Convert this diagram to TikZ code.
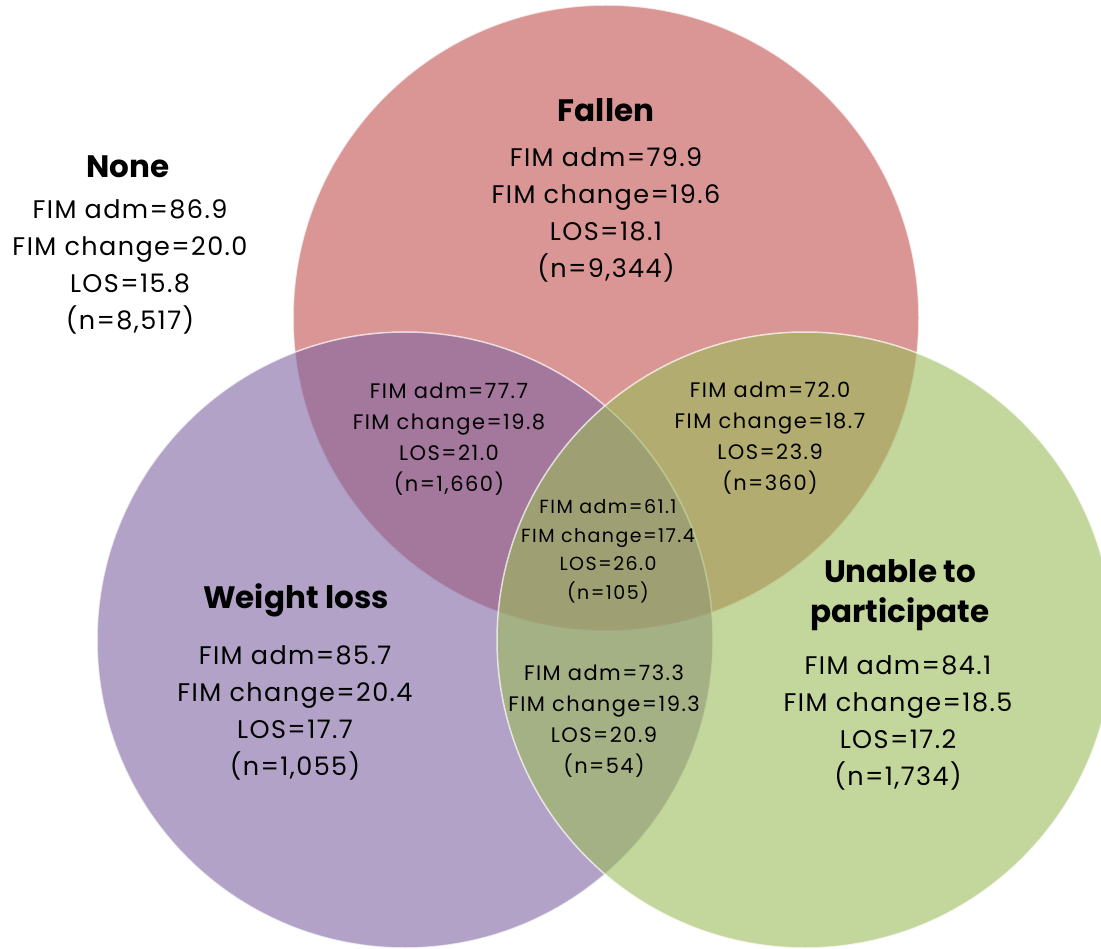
\documentclass[tikz,border=0pt]{standalone}
\usepackage{fontspec}
\setmainfont{Poppins}
\usetikzlibrary{positioning}
\definecolor{fallred}{RGB}{192,80,77}
\definecolor{losspurple}{RGB}{128,100,162}
\definecolor{unablegreen}{RGB}{155,187,89}
\tikzset{
  every picture/.style={line join=round, line cap=round},
  set/.style={fill opacity=0.6, draw=white, draw opacity=0.7, line width=1.5pt},
  head/.style={align=center, font=\fontsize{31}{40}\selectfont\bfseries},
  body/.style={align=center, inner sep=0pt, font=\fontsize{25.5}{37}\selectfont\addfontfeature{LetterSpace=5.5}},
  pair/.style={align=center, inner sep=0pt, font=\fontsize{21}{31}\selectfont\addfontfeature{LetterSpace=7}},
  core/.style={align=center, inner sep=0pt, font=\fontsize{19}{28.5}\selectfont\addfontfeature{LetterSpace=7.5}},
}

\begin{document}
\begin{tikzpicture}[x=1pt,y=-1pt]
\useasboundingbox (0,0) rectangle (1101,949);
\clip (0,0) rectangle (1101,949);
% the three sets
\fill[white] (0,0) rectangle (1101,949);
\draw[set,fill=fallred](606,318) circle[radius=313];
\draw[set,fill=losspurple](405,640) circle[radius=308];
\draw[set,fill=unablegreen](805,640) circle[radius=308];
% titles
\node[head] (none) at (128,167) {None};
\node[head] (fallen) at (606,110) {Fallen};
\node[head] (weight) at (296,600) {Weight loss};
\node[head] (unable) at (900,595) {Unable to\\participate};
% single sets
\node[body] (nonedata) at (130,267) {FIM adm=86.9\\FIM change=20.0\\LOS=15.8\\(n=8,517)};
\node[body] (fallendata) at (606,215) {FIM adm=79.9\\FIM change=19.6\\LOS=18.1\\(n=9,344)};
\node[body] (weightdata) at (295,713) {FIM adm=85.7\\FIM change=20.4\\LOS=17.7\\(n=1,055)};
\node[body] (unabledata) at (898,723) {FIM adm=84.1\\FIM change=18.5\\LOS=17.2\\(n=1,734)};
% overlaps
\node[pair] (fw) at (449,439) {FIM adm=77.7\\FIM change=19.8\\LOS=21.0\\(n=1,660)};
\node[pair] (fu) at (770,438) {FIM adm=72.0\\FIM change=18.7\\LOS=23.9\\(n=360)};
\node[pair] (wu) at (604,721) {FIM adm=73.3\\FIM change=19.3\\LOS=20.9\\(n=54)};
\node[core] (fwu) at (608,551) {FIM adm=61.1\\FIM change=17.4\\LOS=26.0\\(n=105)};
\end{tikzpicture}
\end{document}
